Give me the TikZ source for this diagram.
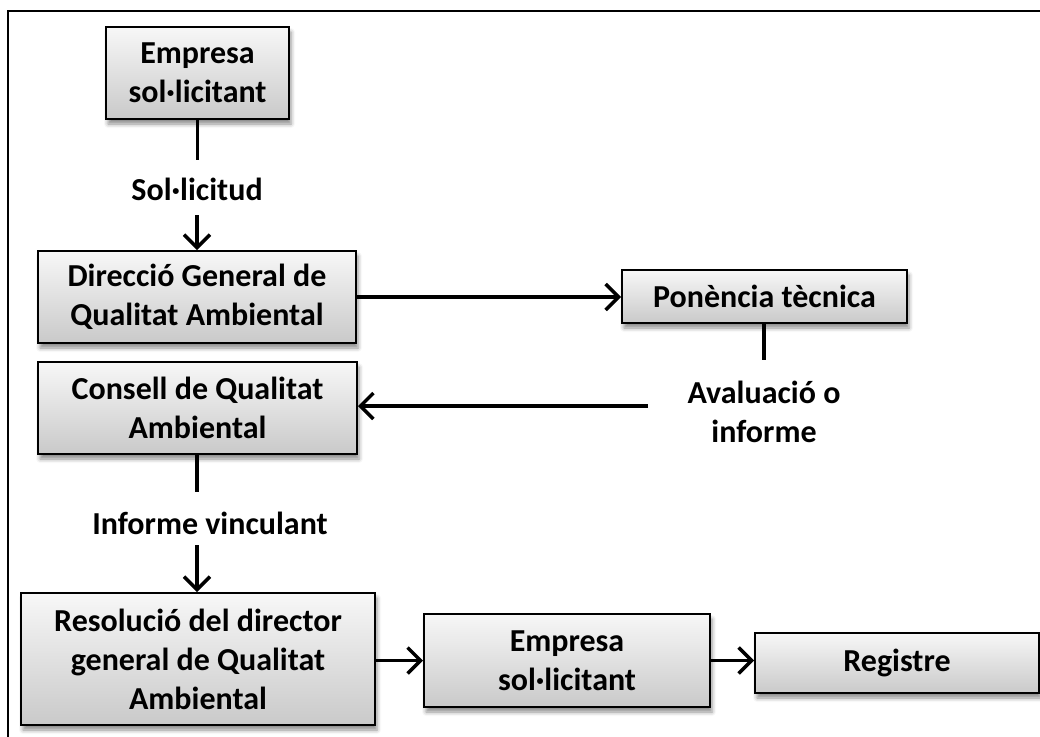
\documentclass[tikz,border=0pt]{standalone}
\usepackage{fontspec}
\setmainfont{Carlito}
\usetikzlibrary{arrows.meta,shadows.blur}
\tikzset{
  boxnode/.style={draw=black, line width=2pt, rectangle, top color=gray!6, bottom color=gray!42,
    align=center, inner sep=0pt, font=\fontsize{32}{39}\selectfont\bfseries,
    blur shadow={shadow xshift=2pt, shadow yshift=-5pt, shadow blur radius=4pt, shadow opacity=45}},
  lbl/.style={align=center, inner sep=0pt, font=\fontsize{32}{39}\selectfont\bfseries},
  conn/.style={line width=3.5pt},
  arr/.style={line width=3.5pt, -{Straight Barb[length=13pt,width=26pt,line width=3.5pt]}},
  frame/.style={line width=2.5pt}
}
\begin{document}
\begin{tikzpicture}[x=1pt,y=-1pt]
\useasboundingbox (0,0) rectangle (1040,736);
% outer frame
\coordinate (fTL) at (8,11);
\coordinate (fTR) at (1041,11);
\coordinate (fBL) at (8,737);
\draw[frame] (fTR) -- (fTL) -- (fBL);

% boxes
\node[boxnode, minimum width=183pt, minimum height=92pt] (e1) at (197.5,73) {Empresa\\sol·licitant};
\node[boxnode, minimum width=318pt, minimum height=92pt] (dir) at (197,297) {Direcció General de\\Qualitat Ambiental};
\node[boxnode, minimum width=285pt, minimum height=53pt] (pon) at (764.5,296.5) {Ponència tècnica};
\node[boxnode, minimum width=319pt, minimum height=92pt] (con) at (197.5,408) {Consell de Qualitat\\Ambiental};
\node[boxnode, minimum width=354pt, minimum height=132pt] (res) at (198,659) {Resolució del director\\general de Qualitat\\Ambiental};
\node[boxnode, minimum width=286pt, minimum height=93pt] (e2) at (567,660.5) {Empresa\\sol·licitant};
\node[boxnode, minimum width=284pt, minimum height=60pt] (reg) at (897,663) {Registre};

% labels
\node[lbl] (sol) at (197,189) {Sol·licitud};
\node[lbl] (aval) at (764,412) {Avaluació o\\informe};
\node[lbl] (inf) at (210,523) {Informe vinculant};

% free ends
\coordinate (s1) at (197.5,160);
\coordinate (s2) at (197,215);
\coordinate (a1) at (764,360);
\coordinate (a2) at (648,406);
\coordinate (i1) at (197,492);
\coordinate (i2) at (197,545);

% connectors
\draw[conn] (e1.south -| s1) -- (s1);
\draw[arr] (s2) -- (dir.north -| s2);
\draw[arr] (dir.east) -- (dir.east -| pon.west);
\draw[conn] (pon.south -| a1) -- (a1);
\draw[arr] (a2) -- (a2 -| con.east);
\draw[conn] (con.south -| i1) -- (i1);
\draw[arr] (i2) -- (i2 |- res.north);
\draw[arr] (res.east |- e2.west) -- (e2.west);
\draw[arr] (e2.east) -- (e2.east -| reg.west);
\end{tikzpicture}
\end{document}
